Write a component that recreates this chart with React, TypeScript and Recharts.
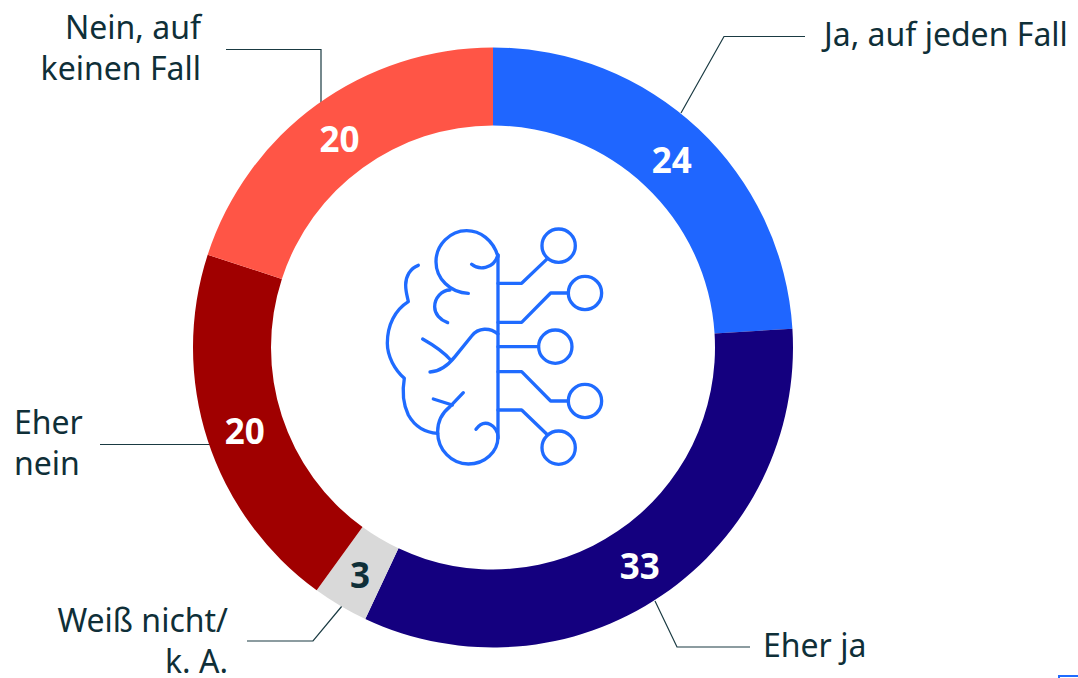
import { PieChart, Pie, Cell } from 'recharts';

const categories = ['Ja, auf jeden Fall', 'Eher ja', 'Weiß nicht/ k. A.', 'Eher nein', 'Nein, auf keinen Fall'];
const values = [24, 33, 3, 20, 20];
const colors = ['#1f66ff', '#14007f', '#d9d9d9', '#a00000', '#ff5546'];
const valueColors = ['#ffffff', '#ffffff', '#0f2f38', '#ffffff', '#ffffff'];

const data = categories.map((name, i) => ({ name, value: values[i] }));

const FONT = '"Noto Sans", "Open Sans", sans-serif';
const TEXT_COLOR = '#0f2f38';
const ICON_COLOR = '#1f6bff';
const RADIAN = Math.PI / 180;

// outer category labels with their leader lines
const callouts = [
  { lines: ['Ja, auf jeden Fall'], x: 824, y: 46, anchor: 'start', leader: 'M805 36.5H724L681 113' },
  { lines: ['Eher ja'], x: 763, y: 657, anchor: 'start', leader: 'M655 601L677 647H750' },
  { lines: ['Weiß nicht/', 'k. A.'], x: 228, y: 632, anchor: 'end', leader: 'M247 641H313L342 606' },
  { lines: ['Eher', 'nein'], x: 14, y: 434, anchor: 'start', leader: 'M100 444.5H217' },
  { lines: ['Nein, auf', 'keinen Fall'], x: 201, y: 39, anchor: 'end', leader: 'M226 49.5H321V103' },
];

// icon paths, drawn in a 3x local grid
const brainPaths = [
  'M384 135V685',
  'M384 140C370 90 330 62 290 62C240 62 198 105 198 155C198 205 240 248 295 250',
  'M305 163C325 180 370 180 384 135',
  'M240 240C215 240 194 265 194 290C194 312 210 330 233 338',
  'M145 166C120 175 107 200 107 225C107 245 112 260 115 275C75 300 52 345 52 400C52 440 75 480 103 505C97 540 98 580 115 615C135 650 165 668 203 670',
  'M180 486C210 485 235 465 255 440L305 378C325 352 360 352 384 372',
  'M158 387C190 405 220 425 242 450',
  'M190 567L247 585',
  'M280 548L240 590C215 610 203 635 203 665C203 720 245 762 295 762C345 762 384 725 384 680C384 650 345 620 318 658',
  'M384 220H455L530 148',
  'M384 337H455L542 249H595',
  'M384 410H505',
  'M384 485H455L542 573H595',
  'M384 600H455L530 672',
];
const brainNodes = [
  [566, 107],
  [645, 249],
  [556, 410],
  [645, 573],
  [566, 713],
];

function renderValue(props: any) {
  const { cx, cy, midAngle, innerRadius, outerRadius, index, value } = props;
  const r = (innerRadius + outerRadius) / 2;
  return (
    <text
      x={cx + r * Math.cos(-midAngle * RADIAN)}
      y={cy + r * Math.sin(-midAngle * RADIAN) + 2}
      textAnchor="middle"
      dominantBaseline="central"
      fill={valueColors[index]}
      fontFamily={FONT}
      fontSize={35}
      fontWeight={700}
    >
      {value}
    </text>
  );
}

export default function App() {
  return (
    <div style={{ position: 'absolute', left: 0, top: 0, width: 1078, height: 678, overflow: 'hidden', background: '#fff' }}>
      <PieChart width={1078} height={678} margin={{ top: 0, right: 0, bottom: 0, left: 0 }}>
        <Pie
          data={data}
          dataKey="value"
          nameKey="name"
          cx={493}
          cy={347.5}
          innerRadius={222}
          outerRadius={300}
          startAngle={90}
          endAngle={-270}
          stroke="none"
          label={renderValue}
          labelLine={false}
          isAnimationActive={false}
        >
          {data.map((d, i) => (
            <Cell key={d.name} fill={colors[i]} />
          ))}
        </Pie>

        {callouts.map((c) => (
          <g key={c.lines[0]}>
            <path d={c.leader} fill="none" stroke="#1a3a42" strokeWidth={1.2} />
            <text x={c.x} y={c.y} textAnchor={c.anchor as any} fill={TEXT_COLOR} fontFamily={FONT} fontSize={32}>
              {c.lines.map((line, i) => (
                <tspan key={line} x={c.x} dy={i === 0 ? 0 : 41}>
                  {line}
                </tspan>
              ))}
            </text>
          </g>
        ))}

        <g transform="translate(370 210) scale(0.3333)" fill="none" stroke={ICON_COLOR} strokeWidth={10} strokeLinecap="round" strokeLinejoin="round">
          {brainPaths.map((d) => (
            <path key={d} d={d} />
          ))}
          {brainNodes.map(([x, y]) => (
            <circle key={`${x}-${y}`} cx={x} cy={y} r={50} />
          ))}
        </g>

        {/* cropped element in the bottom right corner */}
        <path d="M1059 678V676H1078" fill="none" stroke={ICON_COLOR} strokeWidth={2} />
      </PieChart>
    </div>
  );
}
